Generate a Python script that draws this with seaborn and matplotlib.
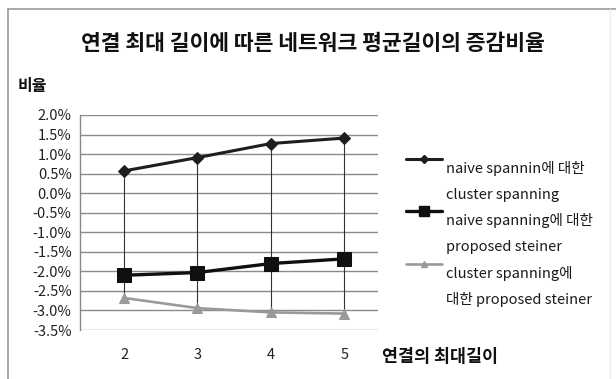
import matplotlib
matplotlib.use("Agg")
import matplotlib.pyplot as plt
from matplotlib.lines import Line2D
from matplotlib.legend_handler import HandlerLine2D
from matplotlib.ticker import FuncFormatter, FixedLocator
import numpy as np
import pandas as pd
import seaborn as sns

# Data (percent change of average network length)
max_lengths = [2, 3, 4, 5]
cluster_vs_naive = [0.57, 0.91, 1.27, 1.41]
steiner_vs_naive = [-2.10, -2.03, -1.80, -1.68]
steiner_vs_cluster = [-2.68, -2.94, -3.05, -3.08]
series_labels = [
    ["naive spannin에 대한", "cluster spanning"],
    ["naive spanning에 대한", "proposed steiner"],
    ["cluster spanning에", "대한 proposed steiner"],
]
y_ticks = [2.0, 1.5, 1.0, 0.5, 0.0, -0.5, -1.0, -1.5, -2.0, -2.5, -3.0, -3.5]

sns.set_theme(style="white")
plt.rcParams["font.family"] = ["Noto Sans CJK KR", "DejaVu Sans"]
plt.rcParams["axes.unicode_minus"] = False

names = [" ".join(l) for l in series_labels]
df = pd.DataFrame({
    "x": max_lengths * 3,
    "y": cluster_vs_naive + steiner_vs_naive + steiner_vs_cluster,
    "series": [names[0]] * 4 + [names[1]] * 4 + [names[2]] * 4,
})

colors = ["#1e1e1e", "#101010", "#9a9a9a"]
markers = ["D", "s", "^"]
msizes = [6, 10, 7]
lwidths = [2.2, 2.4, 1.9]

fig = plt.figure(figsize=(6.16, 3.79), dpi=100)
ax = fig.add_axes([80 / 616, 1 - 330 / 379, 298 / 616, 215 / 379])

# high-low lines connecting the series at each category
stack = np.array([cluster_vs_naive, steiner_vs_naive, steiner_vs_cluster])
ax.vlines(max_lengths, stack.min(axis=0), stack.max(axis=0),
          color="#333333", lw=0.8, zorder=2)

for i, name in enumerate(names):
    sub = df[df["series"] == name]
    sns.lineplot(data=sub, x="x", y="y", ax=ax, color=colors[i],
                 marker=markers[i], markersize=msizes[i], linewidth=lwidths[i],
                 markeredgecolor=colors[i], legend=False, zorder=3 + i)

ax.set_xlim(1.40, 5.46)
ax.set_ylim(-3.5, 2.0)
ax.yaxis.set_major_locator(FixedLocator(y_ticks))
ax.yaxis.set_major_formatter(FuncFormatter(lambda v, p: f"{v:.1f}%"))
ax.set_xticks(max_lengths)
ax.set_xticklabels([str(v) for v in max_lengths])
ax.grid(axis="y", color="#8a8a8a", lw=1.0)
ax.set_axisbelow(True)
for s in ["top", "right", "bottom"]:
    ax.spines[s].set_visible(False)
ax.spines["left"].set_color("#888888")
ax.spines["left"].set_linewidth(1.0)
ax.tick_params(axis="y", labelsize=10.5, colors="#222222", length=0, pad=6)
ax.tick_params(axis="x", labelsize=10.5, colors="#222222", length=0, pad=13)
ax.set_xlabel("")
ax.set_ylabel("")

fig.text(313 / 616, 1 - 44 / 379, "연결 최대 길이에 따른 네트워크 평균길이의 증감비율",
         ha="center", va="center", fontsize=15.5, fontweight="bold", color="#111111")
fig.text(18 / 616, 1 - 86 / 379, "비율", ha="left", va="center",
         fontsize=11.5, fontweight="bold", color="#111111")
fig.text(382 / 616, 1 - 357 / 379, "연결의 최대길이", ha="left", va="center",
         fontsize=12.5, fontweight="bold", color="#111111")


class RaisedLine(HandlerLine2D):
    """Line handler drawn a little above the text centre."""
    def create_artists(self, legend, orig_handle, xdescent, ydescent,
                       width, height, fontsize, trans):
        return super().create_artists(legend, orig_handle, xdescent,
                                      ydescent - 13, width, height, fontsize, trans)


handles, labels = [], []
for i in range(3):
    handles.append(Line2D([0], [0], color=colors[i], marker=markers[i], lw=lwidths[i],
                          markersize=msizes[i] * 0.7, markeredgecolor=colors[i]))
    labels.append(series_labels[i][0])
    handles.append(Line2D([0], [0], color="none"))
    labels.append(series_labels[i][1])

handler = RaisedLine()
leg = fig.legend(handles, labels, loc="upper left",
                 bbox_to_anchor=(406 / 616, 1 - 161 / 379), frameon=False,
                 fontsize=10.5, handlelength=2.5, handletextpad=0.25,
                 labelspacing=0.80, borderaxespad=0, borderpad=0,
                 handler_map={h: handler for h in handles[::2]})
for t in leg.get_texts():
    t.set_color("#1a1a1a")

# chart frame
fig.add_artist(Line2D([8 / 616, 8 / 616], [0, 1 - 9 / 379], color="#9a9a9a", lw=1.2))
fig.add_artist(Line2D([8 / 616, 1], [1 - 9 / 379, 1 - 9 / 379], color="#9a9a9a", lw=1.2))
fig.add_artist(Line2D([610 / 616, 610 / 616], [0, 1 - 9 / 379], color="#eeeeee", lw=1.0))

fig.savefig("out.png", dpi=100)
